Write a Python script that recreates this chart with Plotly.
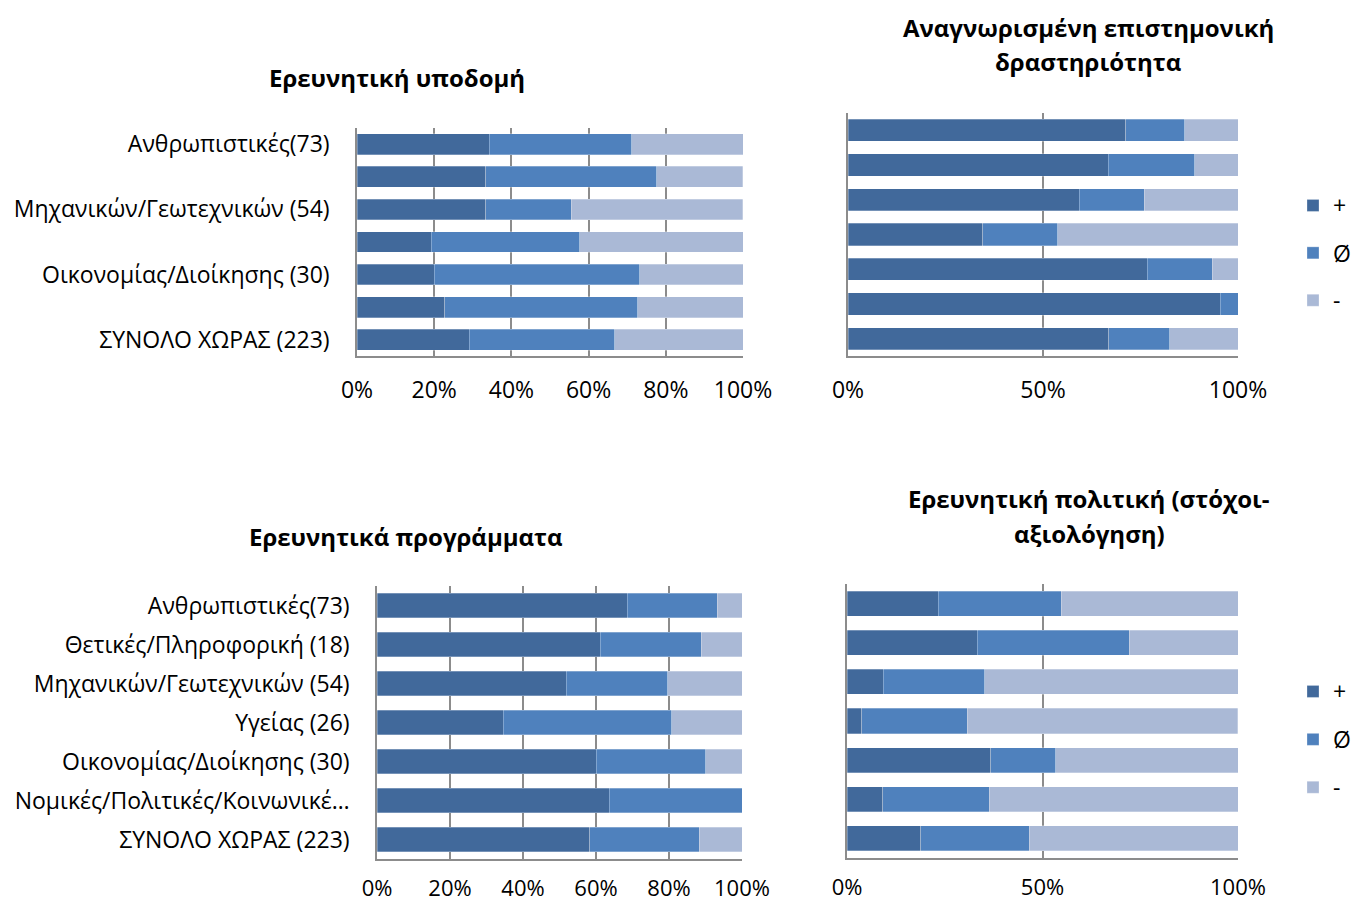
import plotly.graph_objects as go

W, H = 1352, 905

categories = ["Ανθρωπιστικές(73)", "Θετικές/Πληροφορική (18)", "Μηχανικών/Γεωτεχνικών (54)",
              "Υγείας (26)", "Οικονομίας/Διοίκησης (30)", "Νομικές/Πολιτικές/Κοινωνικές (22)",
              "ΣΥΝΟΛΟ ΧΩΡΑΣ (223)"]
tick_text_bottom = ["Ανθρωπιστικές(73)", "Θετικές/Πληροφορική (18)", "Μηχανικών/Γεωτεχνικών (54)",
                    "Υγείας (26)", "Οικονομίας/Διοίκησης (30)", "Νομικές/Πολιτικές/Κοινωνικέ…",
                    "ΣΥΝΟΛΟ ΧΩΡΑΣ (223)"]
series_names = ["+", "Ø", "-"]

# Ερευνητική υποδομή (%)
infra_plus = [34.2, 33.3, 33.3, 19.2, 20.0, 22.7, 29.1]
infra_zero = [37.0, 44.4, 22.2, 38.5, 53.3, 50.0, 37.7]
infra_minus = [28.8, 22.2, 44.4, 42.3, 26.7, 27.3, 33.2]

# Αναγνωρισμένη επιστημονική δραστηριότητα (%)
sci_plus = [71.2, 66.7, 59.3, 34.6, 76.7, 95.5, 66.8]
sci_zero = [15.1, 22.2, 16.7, 19.2, 16.7, 4.5, 15.7]
sci_minus = [13.7, 11.1, 24.1, 46.2, 6.7, 0.0, 17.5]

# Ερευνητικά προγράμματα (%)
prog_plus = [68.5, 61.1, 51.9, 34.6, 60.0, 63.6, 58.3]
prog_zero = [24.7, 27.8, 27.8, 46.2, 30.0, 36.4, 30.0]
prog_minus = [6.8, 11.1, 20.4, 19.2, 10.0, 0.0, 11.7]

# Ερευνητική πολιτική (στόχοι-αξιολόγηση) (%)
pol_plus = [23.3, 33.3, 9.3, 3.8, 36.7, 9.1, 18.8]
pol_zero = [31.5, 38.9, 25.9, 26.9, 16.7, 27.3, 27.8]
pol_minus = [45.2, 27.8, 64.8, 69.2, 46.7, 63.6, 53.4]

colors = ["#41699B", "#4F81BD", "#AAB9D6"]
FONT = "'Open Sans', 'Noto Sans', sans-serif"
GRID = "#8C8C8C"
TICK_SIZE = 23

fig = go.Figure()

panels = [
    ([infra_plus, infra_zero, infra_minus], "x", "y", None),
    ([sci_plus, sci_zero, sci_minus], "x2", "y2", "legend"),
    ([prog_plus, prog_zero, prog_minus], "x3", "y3", None),
    ([pol_plus, pol_zero, pol_minus], "x4", "y4", "legend2"),
]

for series, xa, ya, leg in panels:
    for i, vals in enumerate(series):
        kw = dict(showlegend=False)
        if leg is not None:
            kw = dict(showlegend=True, legend=leg, legendgroup=f"{leg}_{i}")
        fig.add_trace(go.Bar(
            y=categories, x=vals, name=series_names[i], orientation="h",
            marker=dict(color=colors[i], line=dict(color="rgba(255,255,255,0.35)", width=0.8)),
            xaxis=xa, yaxis=ya, hoverinfo="x+y+name", **kw))

def px_x(a, b):
    return [a / W, b / W]

def px_y(top, bottom):
    return [1 - bottom / H, 1 - top / H]

xcommon = dict(range=[0, 100], ticksuffix="%", showgrid=True, gridcolor=GRID, gridwidth=1.5,
               showline=True, linecolor=GRID, linewidth=1.5, ticks="",
               zeroline=False, fixedrange=True, automargin=False)
xfont_top = dict(family=FONT, size=TICK_SIZE, color="black")
xfont_bottom = dict(family=FONT, size=22, color="black")
ycommon = dict(autorange="reversed", showgrid=False, showline=True, linecolor=GRID, linewidth=1.5,
               ticks="", tickfont=dict(family=FONT, size=TICK_SIZE, color="black"),
               ticklabelstandoff=21, fixedrange=True, automargin=False)

fig.update_layout(
    width=W, height=H, margin=dict(l=0, r=0, t=0, b=0, autoexpand=False),
    paper_bgcolor="white", plot_bgcolor="white",
    barmode="stack", bargap=0.36,
    font=dict(family=FONT, size=TICK_SIZE, color="black"),
    xaxis=dict(domain=px_x(357, 743), anchor="y", dtick=20, tickfont=xfont_top,
               ticklabelstandoff=13, **xcommon),
    yaxis=dict(domain=px_y(128, 356), anchor="x", tickmode="array",
               tickvals=[categories[0], categories[2], categories[4], categories[6]],
               ticktext=[categories[0], categories[2], categories[4], categories[6]], **ycommon),
    xaxis2=dict(domain=px_x(848, 1238), anchor="y2", dtick=50, tickfont=xfont_top,
                ticklabelstandoff=13, **xcommon),
    yaxis2=dict(domain=px_y(113, 356), anchor="x2", showticklabels=False, **ycommon),
    xaxis3=dict(domain=px_x(377, 742), anchor="y3", dtick=20, tickfont=xfont_bottom,
                ticklabelstandoff=9, **xcommon),
    yaxis3=dict(domain=px_y(586, 859), anchor="x3", tickmode="array", tickvals=categories,
                ticktext=tick_text_bottom, **ycommon),
    xaxis4=dict(domain=px_x(847, 1238), anchor="y4", dtick=50, tickfont=xfont_bottom,
                ticklabelstandoff=9, **xcommon),
    yaxis4=dict(domain=px_y(584, 858), anchor="x4", showticklabels=False, **ycommon),
    legend=dict(x=1293 / W, y=1 - 184 / H, xanchor="left", yanchor="top",
                font=dict(family=FONT, size=23, color="black"), tracegroupgap=14.5,
                bgcolor="rgba(0,0,0,0)"),
    legend2=dict(x=1293 / W, y=1 - 670 / H, xanchor="left", yanchor="top",
                 font=dict(family=FONT, size=23, color="black"), tracegroupgap=15,
                 bgcolor="rgba(0,0,0,0)"),
)

titles = [
    ("Ερευνητική υποδομή", 397, 78),
    ("Αναγνωρισμένη επιστημονική", 1088, 28),
    ("δραστηριότητα", 1088, 62),
    ("Ερευνητικά προγράμματα", 406, 536),
    ("Ερευνητική πολιτική (στόχοι-", 1089, 498),
    ("αξιολόγηση)", 1089, 533),
]
for text, x, y in titles:
    fig.add_annotation(text=f"<b>{text}</b>", xref="paper", yref="paper", x=x / W, y=1 - y / H,
                       xanchor="center", yanchor="middle", showarrow=False,
                       font=dict(family=FONT, size=24, color="black"))

fig.write_html("out.html", config={"displayModeBar": False},
               post_script="document.body.style.margin='0';document.body.style.overflow='hidden';")
